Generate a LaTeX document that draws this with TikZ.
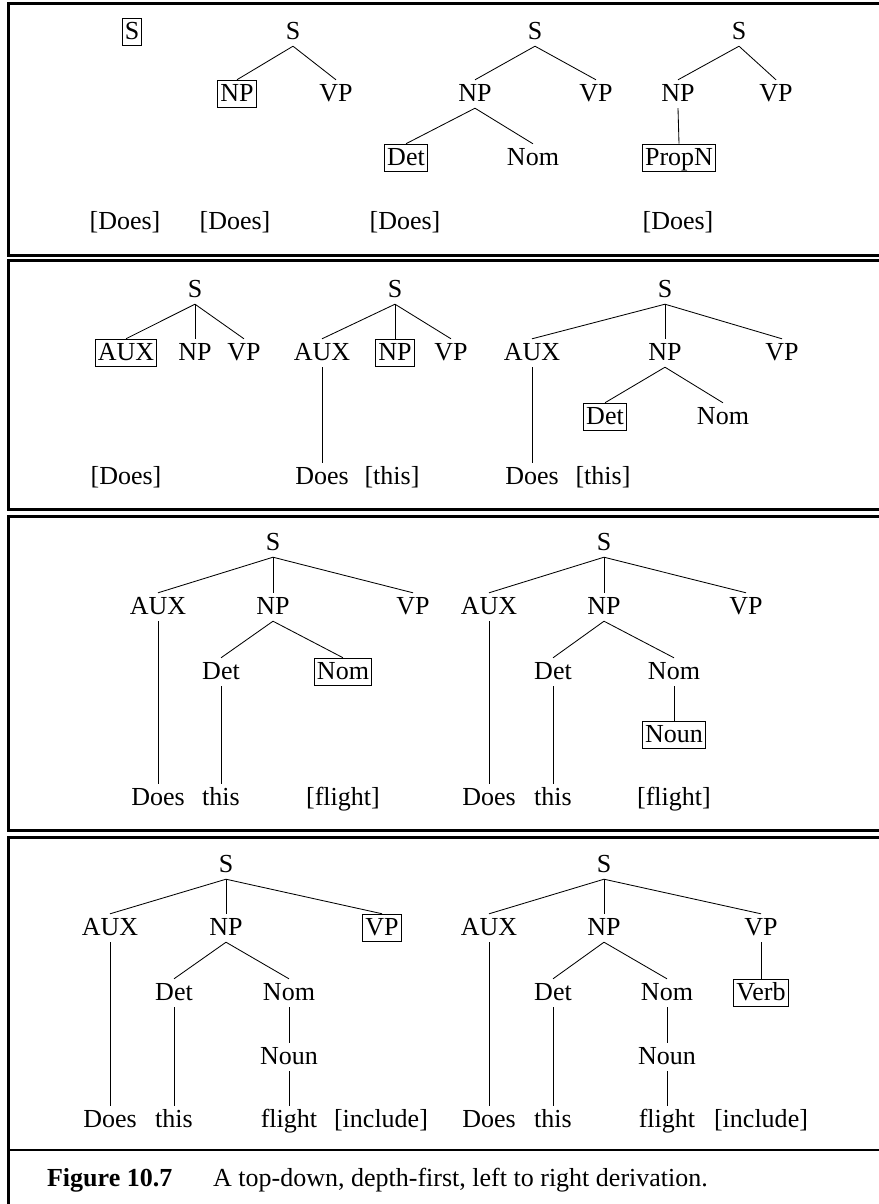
\documentclass[tikz,border=0pt]{standalone}
\usepackage{fontspec}
\setmainfont{Liberation Serif}

\begin{document}
\begin{tikzpicture}[font=\fontsize{18.5}{22}\selectfont, line width=0.6pt,
    cat/.style={inner sep=1.8pt, text height=13pt, text depth=3pt},
    cur/.style={cat, draw, line width=0.7pt},
    frame/.style={line width=2.1pt}]

  \useasboundingbox (0,0) rectangle (21.975,-30.1);
  \clip (0,0) rectangle (21.975,-30.1);

  %% ── Panel frames ───────────────────────────────────────────
  \draw[frame] (0.2175,-0.0875)  rectangle (23,-6.3825);
  \draw[frame] (0.2175,-6.505)   rectangle (23,-12.7325);
  \draw[frame] (0.2175,-12.9075) rectangle (23,-20.755);
  \draw[frame] (0.2175,-20.9325) rectangle (23,-28.75);
  \draw[frame] (0.2175,-28.75)   rectangle (23,-31);

  %% ═══════════════════════════════════════════════════════════
  %% PANEL 1
  %% ═══════════════════════════════════════════════════════════

  %% tree a
  \node[cur] (p1a_s)    at (3.3,-0.8)     {S};
  \node[cat] (p1a_does) at (3.125,-5.55)  {[Does]};

  %% tree b
  \node[cat] (p1b_s)    at (7.325,-0.8)   {S};
  \node[cur] (p1b_np)   at (5.925,-2.35)  {NP};
  \node[cat] (p1b_vp)   at (8.4,-2.35)    {VP};
  \node[cat] (p1b_does) at (5.875,-5.55)  {[Does]};
  \draw (p1b_s.south) -- (p1b_np.north);
  \draw (p1b_s.south) -- (p1b_vp.north);

  %% tree c
  \node[cat] (p1c_s)    at (13.375,-0.8)   {S};
  \node[cat] (p1c_np)   at (11.875,-2.35)  {NP};
  \node[cat] (p1c_vp)   at (14.9,-2.35)    {VP};
  \node[cur] (p1c_det)  at (10.15,-3.95)   {Det};
  \node[cat] (p1c_nom)  at (13.325,-3.95)  {Nom};
  \node[cat] (p1c_does) at (10.125,-5.55)  {[Does]};
  \draw (p1c_s.south)  -- (p1c_np.north);
  \draw (p1c_s.south)  -- (p1c_vp.north);
  \draw (p1c_np.south) -- (p1c_det.north);
  \draw (p1c_np.south) -- (p1c_nom.north);

  %% tree d
  \node[cat] (p1d_s)     at (18.475,-0.8)  {S};
  \node[cat] (p1d_np)    at (16.95,-2.35)  {NP};
  \node[cat] (p1d_vp)    at (19.4,-2.35)   {VP};
  \node[cur] (p1d_propn) at (16.975,-3.95) {PropN};
  \node[cat] (p1d_does)  at (16.95,-5.55)  {[Does]};
  \draw (p1d_s.south)  -- (p1d_np.north);
  \draw (p1d_s.south)  -- (p1d_vp.north);
  \draw (p1d_np.south) -- (p1d_propn.north);

  %% ═══════════════════════════════════════════════════════════
  %% PANEL 2
  %% ═══════════════════════════════════════════════════════════

  %% tree a
  \node[cat] (p2a_s)    at (4.875,-7.25)   {S};
  \node[cur] (p2a_aux)  at (3.15,-8.825)   {AUX};
  \node[cat] (p2a_np)   at (4.875,-8.825)  {NP};
  \node[cat] (p2a_vp)   at (6.1,-8.825)    {VP};
  \node[cat] (p2a_does) at (3.15,-11.925)  {[Does]};
  \draw (p2a_s.south) -- (p2a_aux.north);
  \draw (p2a_s.south) -- (p2a_np.north);
  \draw (p2a_s.south) -- (p2a_vp.north);

  %% tree b
  \node[cat] (p2b_s)    at (9.875,-7.25)   {S};
  \node[cat] (p2b_aux)  at (8.05,-8.825)   {AUX};
  \node[cur] (p2b_np)   at (9.875,-8.825)  {NP};
  \node[cat] (p2b_vp)   at (11.275,-8.825) {VP};
  \node[cat] (p2b_does) at (8.05,-11.925)  {Does};
  \node[cat] (p2b_this) at (9.8,-11.925)   {[this]};
  \draw (p2b_s.south)   -- (p2b_aux.north);
  \draw (p2b_s.south)   -- (p2b_np.north);
  \draw (p2b_s.south)   -- (p2b_vp.north);
  \draw (p2b_aux.south) -- (p2b_does.north);

  %% tree c
  \node[cat] (p2c_s)    at (16.625,-7.25)   {S};
  \node[cat] (p2c_aux)  at (13.3,-8.825)    {AUX};
  \node[cat] (p2c_np)   at (16.625,-8.825)  {NP};
  \node[cat] (p2c_vp)   at (19.55,-8.825)   {VP};
  \node[cur] (p2c_det)  at (15.125,-10.425) {Det};
  \node[cat] (p2c_nom)  at (18.075,-10.425) {Nom};
  \node[cat] (p2c_does) at (13.3,-11.925)   {Does};
  \node[cat] (p2c_this) at (15.075,-11.925) {[this]};
  \draw (p2c_s.south)   -- (p2c_aux.north);
  \draw (p2c_s.south)   -- (p2c_np.north);
  \draw (p2c_s.south)   -- (p2c_vp.north);
  \draw (p2c_np.south)  -- (p2c_det.north);
  \draw (p2c_np.south)  -- (p2c_nom.north);
  \draw (p2c_aux.south) -- (p2c_does.north);

  %% ═══════════════════════════════════════════════════════════
  %% PANEL 3
  %% ═══════════════════════════════════════════════════════════

  %% tree a
  \node[cat] (p3a_s)      at (6.825,-13.575) {S};
  \node[cat] (p3a_aux)    at (3.95,-15.175)  {AUX};
  \node[cat] (p3a_np)     at (6.825,-15.175) {NP};
  \node[cat] (p3a_vp)     at (10.325,-15.175) {VP};
  \node[cat] (p3a_det)    at (5.525,-16.8)   {Det};
  \node[cur] (p3a_nom)    at (8.575,-16.8)   {Nom};
  \node[cat] (p3a_does)   at (3.95,-19.95)   {Does};
  \node[cat] (p3a_this)   at (5.525,-19.95)  {this};
  \node[cat] (p3a_flight) at (8.575,-19.95)  {[flight]};
  \draw (p3a_s.south)   -- (p3a_aux.north);
  \draw (p3a_s.south)   -- (p3a_np.north);
  \draw (p3a_s.south)   -- (p3a_vp.north);
  \draw (p3a_np.south)  -- (p3a_det.north);
  \draw (p3a_np.south)  -- (p3a_nom.north);
  \draw (p3a_aux.south) -- (p3a_does.north);
  \draw (p3a_det.south) -- (p3a_this.north);

  %% tree b
  \node[cat] (p3b_s)      at (15.1,-13.575)   {S};
  \node[cat] (p3b_aux)    at (12.225,-15.175) {AUX};
  \node[cat] (p3b_np)     at (15.1,-15.175)   {NP};
  \node[cat] (p3b_vp)     at (18.65,-15.175)  {VP};
  \node[cat] (p3b_det)    at (13.825,-16.8)   {Det};
  \node[cat] (p3b_nom)    at (16.85,-16.8)    {Nom};
  \node[cur] (p3b_noun)   at (16.85,-18.375)  {Noun};
  \node[cat] (p3b_does)   at (12.225,-19.95)  {Does};
  \node[cat] (p3b_this)   at (13.825,-19.95)  {this};
  \node[cat] (p3b_flight) at (16.85,-19.95)   {[flight]};
  \draw (p3b_s.south)   -- (p3b_aux.north);
  \draw (p3b_s.south)   -- (p3b_np.north);
  \draw (p3b_s.south)   -- (p3b_vp.north);
  \draw (p3b_np.south)  -- (p3b_det.north);
  \draw (p3b_np.south)  -- (p3b_nom.north);
  \draw (p3b_nom.south) -- (p3b_noun.north);
  \draw (p3b_aux.south) -- (p3b_does.north);
  \draw (p3b_det.south) -- (p3b_this.north);

  %% ═══════════════════════════════════════════════════════════
  %% PANEL 4
  %% ═══════════════════════════════════════════════════════════

  %% tree a
  \node[cat] (p4a_s)      at (5.65,-21.625)  {S};
  \node[cat] (p4a_aux)    at (2.75,-23.2)    {AUX};
  \node[cat] (p4a_np)     at (5.65,-23.2)    {NP};
  \node[cur] (p4a_vp)     at (9.55,-23.2)    {VP};
  \node[cat] (p4a_det)    at (4.35,-24.825)  {Det};
  \node[cat] (p4a_nom)    at (7.225,-24.825) {Nom};
  \node[cat] (p4a_noun)   at (7.225,-26.425) {Noun};
  \node[cat] (p4a_does)   at (2.75,-28.0)    {Does};
  \node[cat] (p4a_this)   at (4.35,-28.0)    {this};
  \node[cat] (p4a_flight) at (7.225,-28.0)   {flight};
  \node[cat] (p4a_incl)   at (9.525,-28.0)   {[include]};
  \draw (p4a_s.south)    -- (p4a_aux.north);
  \draw (p4a_s.south)    -- (p4a_np.north);
  \draw (p4a_s.south)    -- (p4a_vp.north);
  \draw (p4a_np.south)   -- (p4a_det.north);
  \draw (p4a_np.south)   -- (p4a_nom.north);
  \draw (p4a_nom.south)  -- (p4a_noun.north);
  \draw (p4a_noun.south) -- (p4a_flight.north);
  \draw (p4a_aux.south)  -- (p4a_does.north);
  \draw (p4a_det.south)  -- (p4a_this.north);

  %% tree b
  \node[cat] (p4b_s)      at (15.1,-21.625)   {S};
  \node[cat] (p4b_aux)    at (12.225,-23.2)   {AUX};
  \node[cat] (p4b_np)     at (15.1,-23.2)     {NP};
  \node[cat] (p4b_vp)     at (19.025,-23.2)   {VP};
  \node[cat] (p4b_det)    at (13.825,-24.825) {Det};
  \node[cat] (p4b_nom)    at (16.675,-24.825) {Nom};
  \node[cur] (p4b_verb)   at (19.025,-24.825) {Verb};
  \node[cat] (p4b_noun)   at (16.675,-26.425) {Noun};
  \node[cat] (p4b_does)   at (12.225,-28.0)   {Does};
  \node[cat] (p4b_this)   at (13.825,-28.0)   {this};
  \node[cat] (p4b_flight) at (16.675,-28.0)   {flight};
  \node[cat] (p4b_incl)   at (19.025,-28.0)   {[include]};
  \draw (p4b_s.south)    -- (p4b_aux.north);
  \draw (p4b_s.south)    -- (p4b_np.north);
  \draw (p4b_s.south)    -- (p4b_vp.north);
  \draw (p4b_np.south)   -- (p4b_det.north);
  \draw (p4b_np.south)   -- (p4b_nom.north);
  \draw (p4b_vp.south)   -- (p4b_verb.north);
  \draw (p4b_nom.south)  -- (p4b_noun.north);
  \draw (p4b_noun.south) -- (p4b_flight.north);
  \draw (p4b_aux.south)  -- (p4b_does.north);
  \draw (p4b_det.south)  -- (p4b_this.north);

  %% Caption
  \node[anchor=west] (cap_num)  at (1.05,-29.5) {\textbf{Figure 10.7}};
  \node[anchor=west] (cap_text) at (5.2,-29.5)
    {A top-down, depth-first, left to right derivation.};

\end{tikzpicture}
\end{document}
